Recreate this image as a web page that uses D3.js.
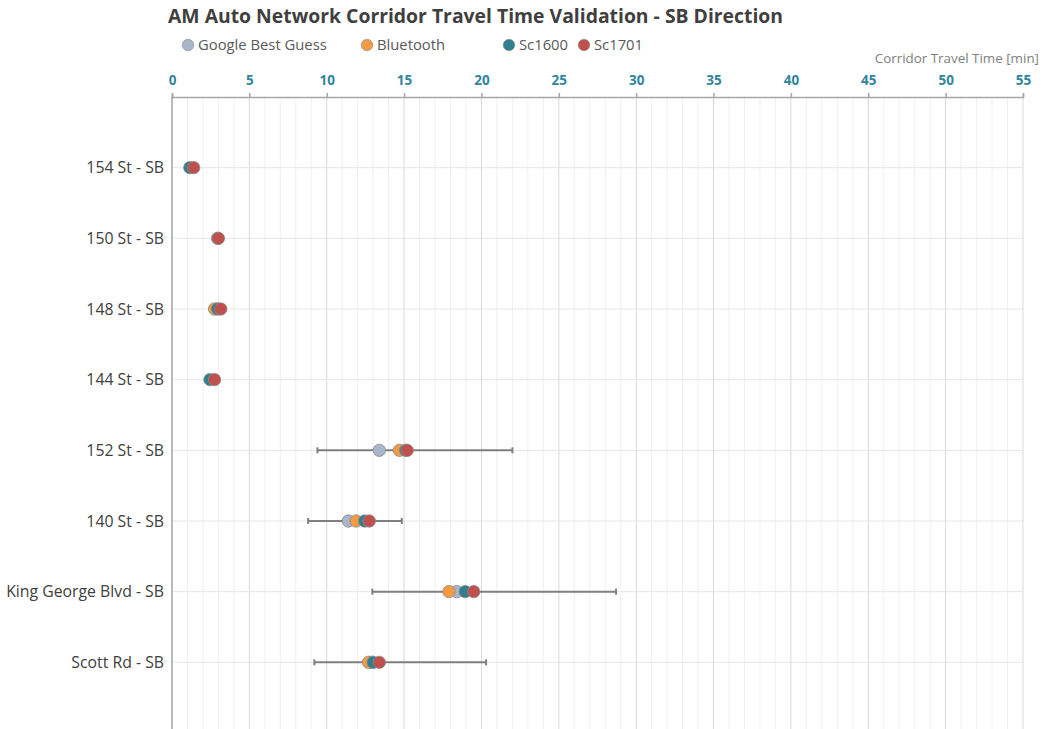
<!DOCTYPE html>
<html>
<head>
<meta charset="utf-8">
<script src="https://cdn.jsdelivr.net/npm/d3@7"></script>
<style>
  html, body { margin: 0; padding: 0; background: #ffffff; }
  svg { display: block; font-family: "Open Sans", "Noto Sans", sans-serif; }
</style>
</head>
<body>
<svg id="chart" width="1041" height="729"></svg>
<script>
// Corridors, top to bottom
const corridors = ["154 St - SB", "150 St - SB", "148 St - SB", "144 St - SB",
                   "152 St - SB", "140 St - SB", "King George Blvd - SB", "Scott Rd - SB"];

// Travel times [min]; null where no observation exists
const googleBestGuess = [null, null, null, null, 13.4, 11.4, 18.4, 12.9];
const bluetooth       = [null, null, 2.75, null, 14.7, 11.9, 17.9, 12.7];
const sc1600          = [1.15, 2.95, 2.95, 2.45, 15.1, 12.45, 18.95, 13.0];
const sc1701          = [1.4, 3.0, 3.15, 2.75, 15.2, 12.75, 19.5, 13.4];

// Observed travel-time range (min / max) for each corridor
const rangeLow  = [null, null, null, null, 9.4, 8.8, 12.95, 9.2];
const rangeHigh = [null, null, null, null, 22.0, 14.85, 28.7, 20.3];

const xTicks = [0, 5, 10, 15, 20, 25, 30, 35, 40, 45, 50, 55];

const seriesNames  = ["Google Best Guess", "Bluetooth", "Sc1600", "Sc1701"];
const seriesValues = [googleBestGuess, bluetooth, sc1600, sc1701];
const seriesColors = ["#a9b5ca", "#f39a45", "#2f7f8f", "#c0504d"];

const svg = d3.select("#chart");
const plot = { left: 172, right: 1023, top: 97, bottom: 733, clip: 729 };

const x = d3.scaleLinear().domain([0, 55]).range([plot.left, plot.right]);
// one empty slot above the first and below the last corridor
const y = d3.scalePoint().domain(["", ...corridors, " "]).range([plot.top, plot.bottom]);

// minor gridlines every minute
svg.append("g").selectAll("line")
  .data(d3.range(1, 56).filter(v => v % 5 !== 0))
  .join("line")
  .attr("x1", d => x(d)).attr("x2", d => x(d))
  .attr("y1", plot.top).attr("y2", plot.clip)
  .attr("stroke", "#f0f0f0").attr("stroke-width", 1);

// major gridlines
svg.append("g").selectAll("line")
  .data(xTicks.filter(v => v > 0))
  .join("line")
  .attr("x1", d => x(d)).attr("x2", d => x(d))
  .attr("y1", plot.top).attr("y2", plot.clip)
  .attr("stroke", "#d9d9d9").attr("stroke-width", 1);

// horizontal gridlines at each corridor
svg.append("g").selectAll("line")
  .data(corridors)
  .join("line")
  .attr("x1", plot.left).attr("x2", plot.right)
  .attr("y1", d => y(d)).attr("y2", d => y(d))
  .attr("stroke", "#e6e6e6").attr("stroke-width", 1);

// top axis
const xAxis = d3.axisTop(x).tickValues(xTicks).tickSize(4).tickPadding(8)
  .tickFormat(d3.format("d"));
const gx = svg.append("g").attr("transform", `translate(0,${plot.top})`).call(xAxis);
gx.select(".domain").attr("stroke", "#a6a6a6").attr("stroke-width", 1.5);
gx.selectAll(".tick line").attr("stroke", "#a6a6a6").attr("stroke-width", 1.5);
gx.selectAll(".tick text")
  .attr("fill", "#31859c").attr("font-size", 13.5).attr("font-weight", "bold")
  .attr("font-family", "'Open Sans', sans-serif");

// left axis line + category labels
svg.append("line")
  .attr("x1", plot.left).attr("x2", plot.left).attr("y1", plot.top).attr("y2", plot.clip)
  .attr("stroke", "#8c8c8c").attr("stroke-width", 1.2);
svg.append("g").selectAll("text")
  .data(corridors)
  .join("text")
  .attr("x", 164).attr("y", d => y(d))
  .attr("dy", "0.35em")
  .attr("text-anchor", "end")
  .attr("fill", "#404040").attr("font-size", 15.8)
  .text(d => d);

// observed range bars
const ranges = corridors.map((c, i) => ({ c, lo: rangeLow[i], hi: rangeHigh[i] }))
  .filter(d => d.lo !== null);
const rg = svg.append("g").attr("stroke", "#7f7f7f").attr("stroke-width", 2);
rg.selectAll("line.bar").data(ranges).join("line").attr("class", "bar")
  .attr("x1", d => x(d.lo)).attr("x2", d => x(d.hi))
  .attr("y1", d => y(d.c)).attr("y2", d => y(d.c));
rg.selectAll("line.capl").data(ranges).join("line").attr("class", "capl")
  .attr("x1", d => x(d.lo)).attr("x2", d => x(d.lo))
  .attr("y1", d => y(d.c) - 3).attr("y2", d => y(d.c) + 3);
rg.selectAll("line.caph").data(ranges).join("line").attr("class", "caph")
  .attr("x1", d => x(d.hi)).attr("x2", d => x(d.hi))
  .attr("y1", d => y(d.c) - 3).attr("y2", d => y(d.c) + 3);

// points, one series at a time
seriesValues.forEach((vals, s) => {
  const pts = corridors.map((c, i) => ({ c, v: vals[i] })).filter(d => d.v !== null);
  svg.append("g").selectAll("circle")
    .data(pts)
    .join("circle")
    .attr("cx", d => x(d.v)).attr("cy", d => y(d.c))
    .attr("r", 6.2)
    .attr("fill", seriesColors[s])
    .attr("stroke", "#8a8a8a").attr("stroke-width", 0.8);
});

// title
svg.append("text")
  .attr("x", 168).attr("y", 23)
  .attr("fill", "#404040").attr("font-size", 19.5).attr("font-weight", "bold")
  .attr("textLength", 615).attr("lengthAdjust", "spacingAndGlyphs")
  .text("AM Auto Network Corridor Travel Time Validation - SB Direction");

// legend
const legendX = [188, 367, 509, 584];
const lg = svg.append("g");
seriesNames.forEach((name, i) => {
  lg.append("circle").attr("cx", legendX[i]).attr("cy", 45).attr("r", 5.8)
    .attr("fill", seriesColors[i]).attr("stroke", "#8a8a8a").attr("stroke-width", 0.6);
  lg.append("text").attr("x", legendX[i] + 10).attr("y", 45).attr("dy", "0.35em")
    .attr("fill", "#595959").attr("font-size", 14.8).text(name);
});

// axis title
svg.append("text")
  .attr("x", 1039).attr("y", 58).attr("dy", "0.35em")
  .attr("text-anchor", "end")
  .attr("fill", "#808080").attr("font-size", 13.4)
  .text("Corridor Travel Time [min]");
</script>
</body>
</html>
